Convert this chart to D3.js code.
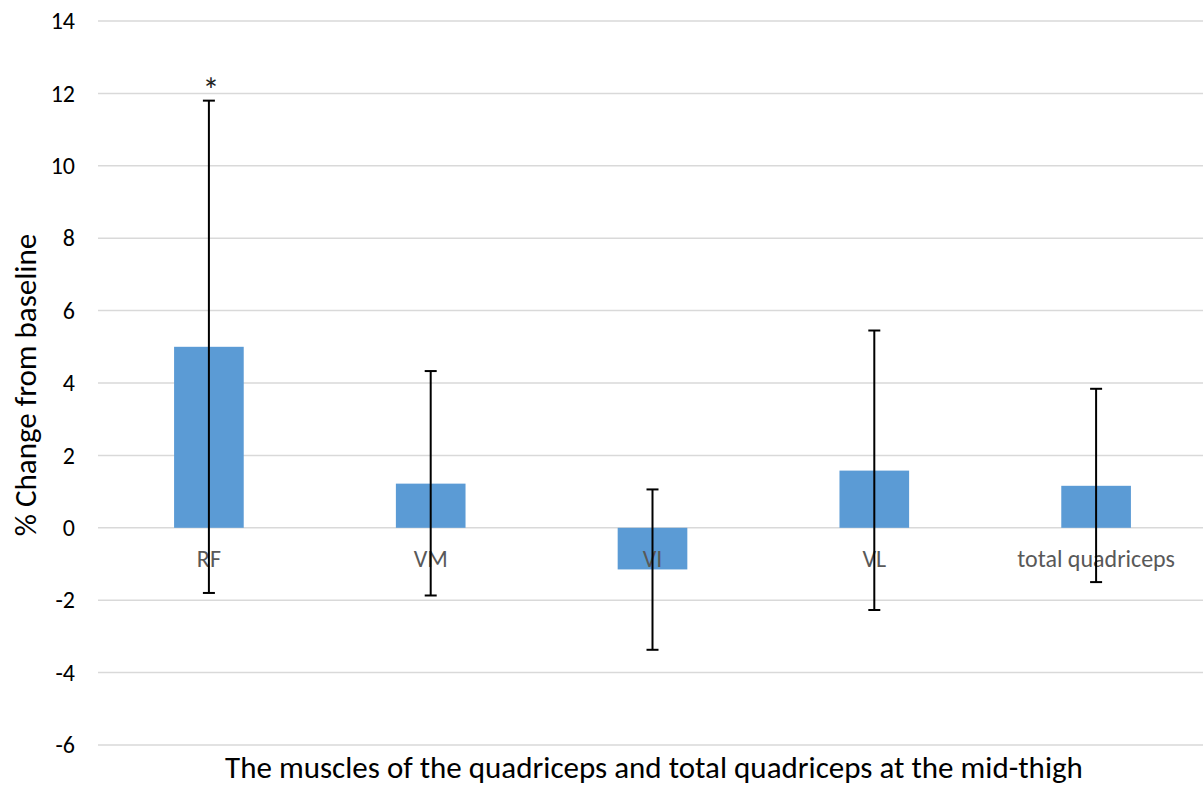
<!DOCTYPE html>
<html>
<head>
<meta charset="utf-8">
<script src="https://cdn.jsdelivr.net/npm/d3@7"></script>
<style>
  html, body { margin: 0; padding: 0; background: #ffffff; }
  svg { display: block; }
  text { font-family: Carlito, Calibri, Lato, sans-serif; }
</style>
</head>
<body>
<svg id="chart" width="1203" height="787"></svg>
<script>
// Muscle groups along the x axis
const categories = ["RF", "VM", "VI", "VL", "total quadriceps"];
// Mean % change from baseline
const meanChange = [5.0, 1.22, -1.15, 1.58, 1.16];
// Error bar extents (upper and lower ends)
const errorHigh = [11.8, 4.33, 1.06, 5.45, 3.84];
const errorLow = [-1.8, -1.87, -3.37, -2.27, -1.5];
// Significance markers shown above the upper error bar
const markers = ["*", "", "", "", ""];
// Value axis ticks
const yTicks = [-6, -4, -2, 0, 2, 4, 6, 8, 10, 12, 14];

const svg = d3.select("#chart");
const margin = { left: 98, right: -4, top: 21, bottom: 42 };
const width = 1203, height = 787;

const x = d3.scaleBand()
  .domain(categories)
  .range([margin.left, width - margin.right])
  .paddingInner(0)
  .paddingOuter(0);

const y = d3.scaleLinear()
  .domain([-6, 14])
  .range([height - margin.bottom, margin.top]);

const barW = x.bandwidth() * 0.314;
const capW = 12;

// Horizontal gridlines
svg.append("g")
  .selectAll("line")
  .data(yTicks)
  .join("line")
  .attr("x1", margin.left)
  .attr("x2", width)
  .attr("y1", d => y(d))
  .attr("y2", d => y(d))
  .attr("stroke", "#d9d9d9")
  .attr("stroke-width", 1.5);

// Y axis tick labels
const yAxis = d3.axisLeft(y).tickValues(yTicks).tickSize(0).tickPadding(0)
  .tickFormat(d => String(d));
const gy = svg.append("g")
  .attr("transform", `translate(${margin.left - 23},0)`)
  .call(yAxis);
gy.select(".domain").remove();
gy.selectAll("text")
  .attr("font-family", "Carlito, Calibri, Lato, sans-serif")
  .attr("font-size", 24)
  .attr("fill", "#000000");

const rows = categories.map((c, i) => ({
  cat: c, v: meanChange[i], hi: errorHigh[i], lo: errorLow[i], mark: markers[i]
}));

// Bars
svg.append("g")
  .selectAll("rect")
  .data(rows)
  .join("rect")
  .attr("x", d => x(d.cat) + x.bandwidth() / 2 - barW / 2)
  .attr("width", barW)
  .attr("y", d => Math.min(y(d.v), y(0)))
  .attr("height", d => Math.abs(y(d.v) - y(0)))
  .attr("fill", "#5b9bd5");

// Category labels sit just below the zero line
svg.append("g")
  .selectAll("text")
  .data(rows)
  .join("text")
  .attr("x", d => x(d.cat) + x.bandwidth() / 2)
  .attr("y", y(0) + 39)
  .attr("text-anchor", "middle")
  .attr("font-size", 24)
  .attr("fill", "#595959")
  .text(d => d.cat);

// Error bars
const eb = svg.append("g")
  .attr("stroke", "#000000")
  .attr("stroke-width", 2)
  .selectAll("g")
  .data(rows)
  .join("g");
eb.append("line")
  .attr("x1", d => x(d.cat) + x.bandwidth() / 2)
  .attr("x2", d => x(d.cat) + x.bandwidth() / 2)
  .attr("y1", d => y(d.hi))
  .attr("y2", d => y(d.lo));
eb.append("line")
  .attr("x1", d => x(d.cat) + x.bandwidth() / 2 - capW / 2)
  .attr("x2", d => x(d.cat) + x.bandwidth() / 2 + capW / 2)
  .attr("y1", d => y(d.hi))
  .attr("y2", d => y(d.hi));
eb.append("line")
  .attr("x1", d => x(d.cat) + x.bandwidth() / 2 - capW / 2)
  .attr("x2", d => x(d.cat) + x.bandwidth() / 2 + capW / 2)
  .attr("y1", d => y(d.lo))
  .attr("y2", d => y(d.lo));

// Significance markers
svg.append("g")
  .selectAll("text")
  .data(rows.filter(d => d.mark))
  .join("text")
  .attr("x", d => x(d.cat) + x.bandwidth() / 2 + 2)
  .attr("y", d => y(d.hi) + 1)
  .attr("text-anchor", "middle")
  .attr("font-size", 34)
  .attr("fill", "#222222")
  .text(d => d.mark);

// Axis titles
svg.append("text")
  .attr("transform", `translate(36,${(y(14) + y(-6)) / 2 + 2}) rotate(-90)`)
  .attr("text-anchor", "middle")
  .attr("font-size", 31)
  .attr("fill", "#000000")
  .text("% Change from baseline");

svg.append("text")
  .attr("x", 654)
  .attr("y", 778)
  .attr("text-anchor", "middle")
  .attr("font-size", 31)
  .attr("fill", "#000000")
  .text("The muscles of the quadriceps and total quadriceps at the mid-thigh");
</script>
</body>
</html>
